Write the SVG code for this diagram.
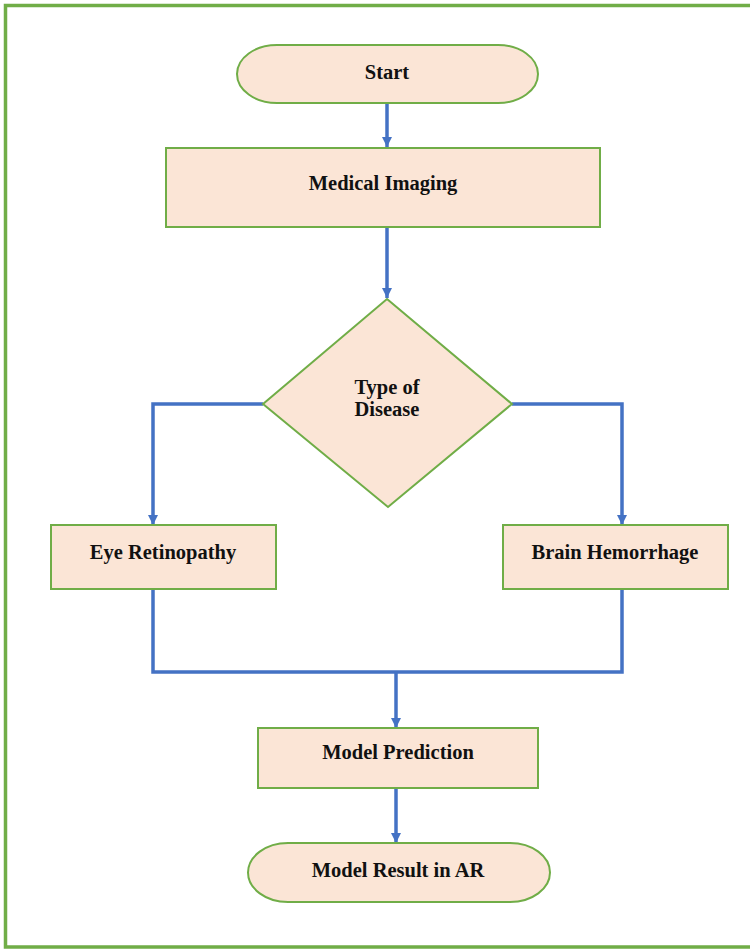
<svg xmlns="http://www.w3.org/2000/svg" width="750" height="949" viewBox="0 0 750 949">
<defs>
<style>
.node{fill:#FBE5D6;stroke:#70AD47;stroke-width:2}
.lbl{font-family:"Liberation Serif","Times New Roman",serif;font-weight:bold;font-size:20.5px;fill:#111;text-anchor:middle}
.conn{fill:none;stroke:#4472C4;stroke-width:3.5}
</style>
<marker id="ah" viewBox="0 0 10 10" refX="10" refY="5" markerWidth="10" markerHeight="10" markerUnits="userSpaceOnUse" orient="auto">
<path d="M0,0 L10,5 L0,10 z" fill="#4472C4"/>
</marker>
</defs>
<rect width="750" height="949" fill="#FFFFFF"/>
<g id="frame">
<path d="M750,5.5 H5.5 V947 H750" fill="none" stroke="#70AD47" stroke-width="3.5"/>
</g>
<g id="connectors">
<path class="conn" d="M387,103 V147" marker-end="url(#ah)"/>
<path class="conn" d="M387,227 V298" marker-end="url(#ah)"/>
<path class="conn" d="M263,404 H153 V525" marker-end="url(#ah)"/>
<path class="conn" d="M512,404 H622 V525" marker-end="url(#ah)"/>
<path class="conn" d="M153,589 V672 H622 V589"/>
<path class="conn" d="M396,672 V728" marker-end="url(#ah)"/>
<path class="conn" d="M396,788 V843" marker-end="url(#ah)"/>
</g>
<g id="start">
<rect class="node" x="237" y="45" width="301" height="58" rx="40" ry="29"/>
<text class="lbl" x="387" y="79">Start</text>
</g>
<g id="medical-imaging">
<rect class="node" x="166" y="148" width="434" height="79"/>
<text class="lbl" x="383" y="190">Medical Imaging</text>
</g>
<g id="type-of-disease">
<polygon class="node" points="387,299 512,404 388,507 263,404"/>
<text class="lbl" x="387" y="394">Type of</text>
<text class="lbl" x="387" y="416">Disease</text>
</g>
<g id="eye-retinopathy">
<rect class="node" x="51" y="525" width="225" height="64"/>
<text class="lbl" x="163" y="559">Eye Retinopathy</text>
</g>
<g id="brain-hemorrhage">
<rect class="node" x="503" y="525" width="225" height="64"/>
<text class="lbl" x="615" y="559">Brain Hemorrhage</text>
</g>
<g id="model-prediction">
<rect class="node" x="258" y="728" width="280" height="60"/>
<text class="lbl" x="398" y="759">Model Prediction</text>
</g>
<g id="model-result">
<rect class="node" x="248" y="843" width="302" height="59" rx="40" ry="29.5"/>
<text class="lbl" x="398" y="877">Model Result in AR</text>
</g>
</svg>
